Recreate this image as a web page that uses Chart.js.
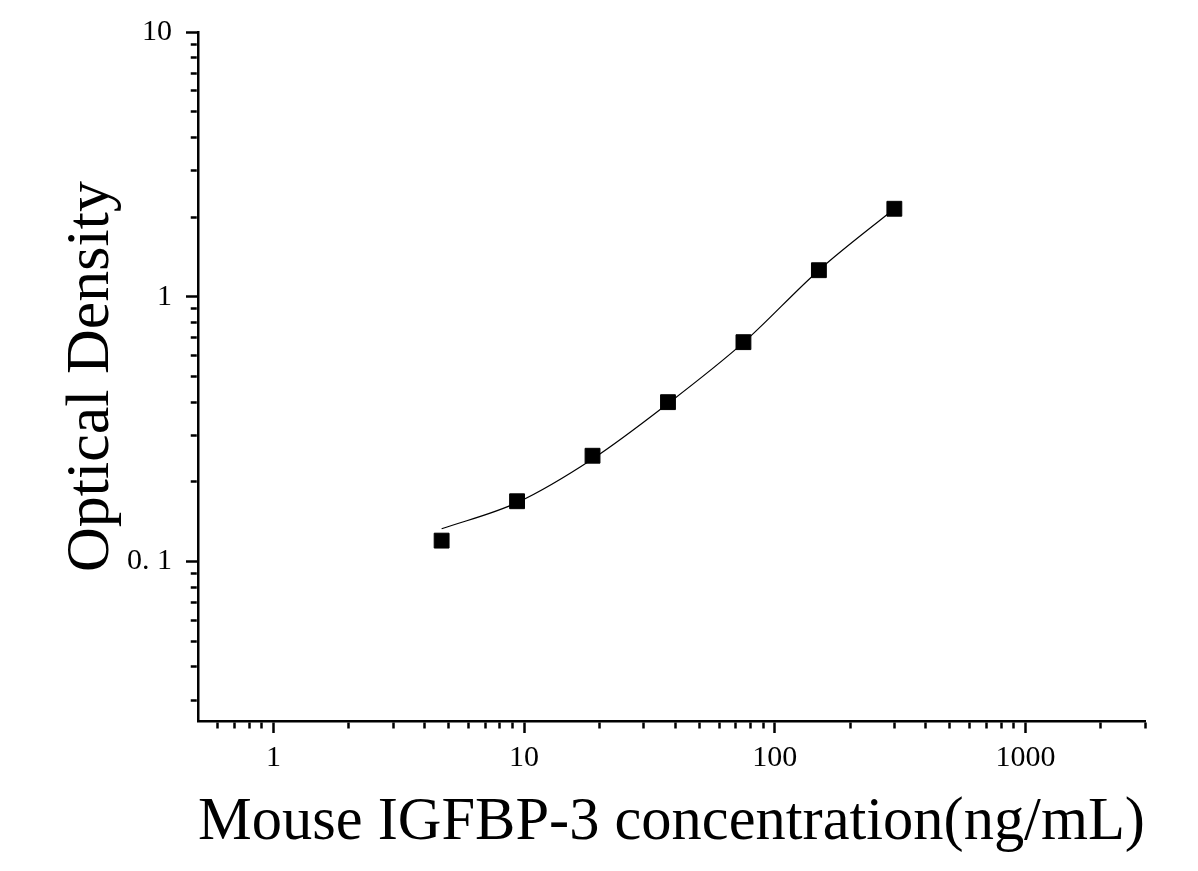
<!DOCTYPE html>
<html>
<head>
<meta charset="utf-8">
<script src="https://cdn.jsdelivr.net/npm/chart.js@4.4.1/dist/chart.umd.min.js"></script>
<style>
  body { margin: 0; background: #fff; }
  #wrap { width: 1198px; height: 871px; }
</style>
</head>
<body>
<div id="wrap"><canvas id="chartOD"></canvas></div>
<script>
// standard points
var concentration = [4.6875, 9.375, 18.75, 37.5, 75, 150, 300];
var opticalDensity = [0.120, 0.169, 0.251, 0.400, 0.674, 1.26, 2.15];

// fitted curve
var curveConc = [4.6875, 9.375, 18.75, 37.5, 75, 150, 300];
var curveOD = [0.133, 0.167, 0.244, 0.395, 0.671, 1.26, 2.15];

// axis ticks
var xMajorTicks = [1, 10, 100, 1000];
var xMinorTicks = [0.6, 0.7, 0.8, 0.9, 2, 3, 4, 5, 6, 7, 8, 9, 20, 30, 40, 50, 60, 70, 80, 90,
                   200, 300, 400, 500, 600, 700, 800, 900, 2000, 3000];
var xTickLabels = ['1', '10', '100', '1000'];
var yMajorTicks = [0.1, 1, 10];
var yMinorTicks = [0.03, 0.04, 0.05, 0.06, 0.07, 0.08, 0.09, 0.2, 0.3, 0.4, 0.5, 0.6, 0.7, 0.8, 0.9,
                   2, 3, 4, 5, 6, 7, 8, 9];
var yTickLabels = ['0. 1', '1', '10'];

function toPoints(xs, ys) {
    return xs.map(function (x, i) { return { x: x, y: ys[i] }; });
}

function setTicks(majors, minors) {
    return function (scale) {
        var all = majors.concat(minors).sort(function (a, b) { return a - b; });
        scale.ticks = all.map(function (v) {
            return { value: v, major: majors.indexOf(v) >= 0 };
        });
    };
}

function labelFor(majors, labels) {
    return function (value) {
        var i = majors.indexOf(value);
        return i >= 0 ? labels[i] : '';
    };
}

var serif = "'Liberation Serif', 'Times New Roman', serif";

var ctx = document.getElementById('chartOD').getContext('2d');
var chart = new Chart(ctx, {
    type: 'scatter',
    data: {
        datasets: [{
            label: 'OD',
            data: toPoints(concentration, opticalDensity),
            pointStyle: 'rect',
            pointRadius: 10.5,
            pointBorderWidth: 1,
            backgroundColor: '#000',
            borderColor: '#000',
            showLine: false
        }, {
            label: 'fit',
            data: toPoints(curveConc, curveOD),
            showLine: true,
            pointRadius: 0,
            borderColor: '#000',
            borderWidth: 1.2,
            cubicInterpolationMode: 'monotone'
        }]
    },
    options: {
        responsive: true,
        maintainAspectRatio: false,
        animation: false,
        layout: { padding: { left: 0, right: 53, top: 24, bottom: 0 } },
        plugins: {
            legend: { display: false },
            tooltip: { enabled: false }
        },
        scales: {
            x: {
                type: 'logarithmic',
                position: 'bottom',
                min: 0.5,
                max: 3000,
                afterBuildTicks: setTicks(xMajorTicks, xMinorTicks),
                afterFit: function (scale) { scale.height = 150; },
                border: { display: true, color: '#000', width: 2.5 },
                grid: {
                    drawOnChartArea: false,
                    drawTicks: true,
                    tickLength: 12,
                    tickWidth: 2.5,
                    tickColor: '#000',
                    color: '#000',
                    tickBorderDash: function (c) {
                        return c.tick && c.tick.major ? [] : [6, 100];
                    }
                },
                ticks: {
                    autoSkip: false,
                    maxRotation: 0,
                    padding: 7,
                    color: '#000',
                    font: { family: serif, size: 30 },
                    callback: labelFor(xMajorTicks, xTickLabels)
                },
                title: {
                    display: true,
                    text: 'Mouse IGFBP-3 concentration(ng/mL)',
                    color: '#000',
                    font: { family: serif, size: 60.5 },
                    padding: { top: 0, bottom: 12 }
                }
            },
            y: {
                type: 'logarithmic',
                position: 'left',
                min: 0.025,
                max: 10,
                afterBuildTicks: setTicks(yMajorTicks, yMinorTicks),
                afterFit: function (scale) { scale.width = 198; },
                border: { display: true, color: '#000', width: 2.5 },
                grid: {
                    drawOnChartArea: false,
                    drawTicks: true,
                    tickLength: 12,
                    tickWidth: 2.5,
                    tickColor: '#000',
                    color: '#000',
                    tickBorderDash: function (c) {
                        return c.tick && c.tick.major ? [] : [0, 4.75, 6, 100];
                    }
                },
                ticks: {
                    autoSkip: false,
                    padding: 14,
                    color: '#000',
                    font: { family: serif, size: 30 },
                    callback: labelFor(yMajorTicks, yTickLabels)
                },
                title: {
                    display: true,
                    text: 'Optical Density',
                    color: '#000',
                    font: { family: serif, size: 62 },
                    padding: { top: 55, bottom: 0 }
                }
            }
        }
    }
});
</script>
</body>
</html>
